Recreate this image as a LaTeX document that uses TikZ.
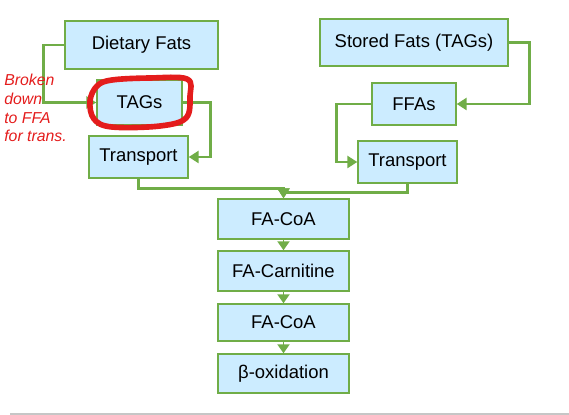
\documentclass[tikz,border=0pt]{standalone}
\usepackage{fontspec}
\setmainfont{Liberation Sans}
\usetikzlibrary{arrows.meta,positioning,calc}
\definecolor{boxgreen}{RGB}{112,173,71}
\definecolor{boxblue}{RGB}{204,236,255}
\definecolor{penred}{RGB}{228,28,28}
\tikzset{
  stage/.style={rectangle, draw=boxgreen, fill=boxblue, thick, inner sep=1pt, font=\fontsize{10.5}{12}\selectfont},
  arrow/.style={-{Triangle[length=2mm,width=2.4mm]}, draw=boxgreen, line width=1.6pt},
  smallarrow/.style={-{Triangle[length=1.8mm,width=2.4mm]}, draw=boxgreen, line width=1.1pt},
  note/.style={text=penred, align=left, inner sep=0pt, font=\fontsize{9}{10.6}\selectfont\itshape}
}
\begin{document}
\begin{tikzpicture}[x=0.02cm,y=-0.02cm]
  \useasboundingbox (0,0) rectangle (569,415);
  % left branch
  \node[stage, minimum width=3.06cm, minimum height=0.96cm] (diet) at (141.5,45) {Dietary Fats};
  \node[stage, minimum width=1.7cm, minimum height=0.9cm] (tags) at (139.5,102.5) {TAGs};
  \node[stage, minimum width=1.98cm, minimum height=0.84cm] (transl) at (138.5,157) {Transport};
  % right branch
  \node[stage, minimum width=3.76cm, minimum height=0.94cm] (stored) at (414,42.5) {Stored Fats (TAGs)};
  \node[stage, minimum width=1.68cm, minimum height=0.84cm] (ffas) at (414,104) {FFAs};
  \node[stage, minimum width=1.98cm, minimum height=0.84cm] (transr) at (407.5,162) {Transport};
  % main chain
  \node[stage, minimum width=2.62cm, minimum height=0.8cm] (coa) at (283.5,219) {FA-CoA};
  \node[stage, minimum width=2.62cm, minimum height=0.8cm] (carn) at (283.5,271) {FA-Carnitine};
  \node[stage, minimum width=2.62cm, minimum height=0.74cm] (coab) at (283.5,322.5) {FA-CoA};
  \node[stage, minimum width=2.62cm, minimum height=0.78cm] (beta) at (283.5,373.5) {β-oxidation};
  \draw[arrow] (diet.west) -- ++(-21,0) |- (tags.west);
  \draw[arrow] (tags.east) -- ++(28,0) |- (transl.east);
  \draw[arrow] (stored.east) -- ++(21,0) |- (ffas.east);
  \draw[arrow] (ffas.west) -- ++(-35,0) |- (transr.west);
  \draw[arrow] (transl.south) -- ++(0,10) -| (coa.north);
  \draw[arrow] (transr.south) -- ++(0,9) -| (coa.north);
  \draw[smallarrow] (coa) -- (carn);
  \draw[smallarrow] (carn) -- (coab);
  \draw[smallarrow] (coab) -- (beta);
  % handwritten remark
  \draw[penred, line width=3.2pt, line join=round] plot[smooth cycle, tension=0.6]
    coordinates {(97,86) (112,80) (150,78) (187,79) (190,96) (186,118) (160,126) (112,127) (94,119) (90,101)};
  \node[note, anchor=north west] (remark) at (4,74) {Broken\\down\\to FFA\\for trans.};
  \draw[gray!45, line width=0.8pt] (10,414) -- (569,414);
\end{tikzpicture}
\end{document}
